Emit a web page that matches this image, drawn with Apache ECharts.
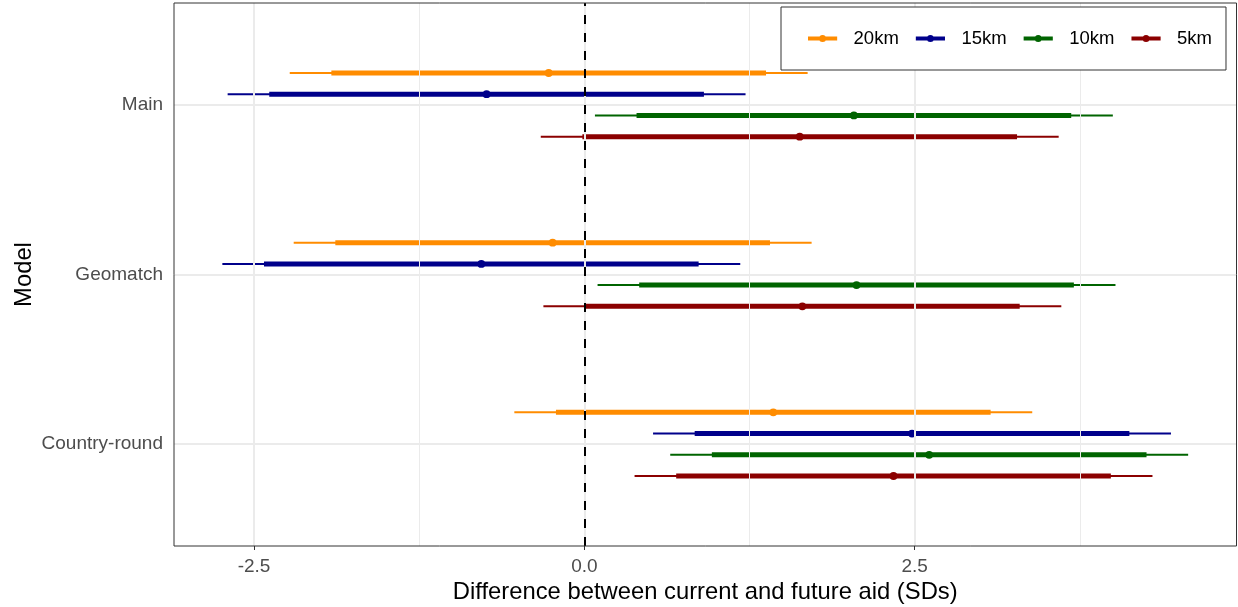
<!DOCTYPE html>
<html>
<head>
<meta charset="utf-8">
<title>Difference between current and future aid</title>
<script src="https://cdn.jsdelivr.net/npm/echarts@6/dist/echarts.min.js"></script>
<style>
  html, body { margin: 0; padding: 0; background: #ffffff; }
  #chart { width: 1238px; height: 607px; }
</style>
</head>
<body>
<div id="chart"></div>
<script>
// Models on the vertical axis, top to bottom
const models = ['Main', 'Geomatch', 'Country-round'];
// Buffer distances, one series each
const distances = ['20km', '15km', '10km', '5km'];
const colors = ['#FF8C00', '#00008B', '#006400', '#8B0000'];

// Rows follow `distances`, columns follow `models`
const estimates = [
  [-0.27, -0.24, 1.43],
  [-0.74, -0.78, 2.48],
  [2.04, 2.06, 2.61],
  [1.63, 1.65, 2.34]
];
const lower95 = [
  [-2.23, -2.20, -0.53],
  [-2.70, -2.74, 0.52],
  [0.08, 0.10, 0.65],
  [-0.33, -0.31, 0.38]
];
const upper95 = [
  [1.69, 1.72, 3.39],
  [1.22, 1.18, 4.44],
  [4.00, 4.02, 4.57],
  [3.59, 3.61, 4.30]
];
const lower90 = [
  [-1.915, -1.885, -0.215],
  [-2.385, -2.425, 0.835],
  [0.395, 0.415, 0.965],
  [-0.015, 0.005, 0.695]
];
const upper90 = [
  [1.375, 1.405, 3.075],
  [0.905, 0.865, 4.125],
  [3.685, 3.705, 4.255],
  [3.275, 3.295, 3.985]
];

const xTicks = [-2.5, 0, 2.5];
const xMinorTicks = [-1.25, 1.25, 3.75];

const FONT = '"Liberation Sans", Arial, Helvetica, sans-serif';
const X_MIN = -3.106, X_MAX = 4.936;
const Y_MIN = 0.4, Y_MAX = 3.6;
const DODGE = 0.5; // total dodge width shared by the four distances

// model index -> position on the value axis (first model at top)
const modelPos = i => models.length - i;
const yTicks = models.map((m, i) => modelPos(i));
const posToModel = {};
models.forEach((m, i) => { posToModel[modelPos(i)] = m; });

function dodgeOffset(k) {
  const step = DODGE / distances.length;
  return DODGE / 2 - step / 2 - k * step;
}

const intervalSeries = distances.map((d, k) => ({
  name: d,
  type: 'custom',
  z: 3,
  encode: { x: [0, 1, 2, 3, 4], y: 5 },
  data: models.map((m, i) => [
    lower95[k][i], upper95[k][i], lower90[k][i], upper90[k][i], estimates[k][i],
    modelPos(i) + dodgeOffset(k)
  ]),
  renderItem: function (params, api) {
    const y = api.value(5);
    const a95 = api.coord([api.value(0), y]);
    const b95 = api.coord([api.value(1), y]);
    const a90 = api.coord([api.value(2), y]);
    const b90 = api.coord([api.value(3), y]);
    const pt = api.coord([api.value(4), y]);
    const c = colors[k];
    return {
      type: 'group',
      children: [
        { type: 'line', shape: { x1: a95[0], y1: a95[1], x2: b95[0], y2: b95[1] },
          style: { stroke: c, lineWidth: 2 } },
        { type: 'line', shape: { x1: a90[0], y1: a90[1], x2: b90[0], y2: b90[1] },
          style: { stroke: c, lineWidth: 5 } },
        { type: 'circle', shape: { cx: pt[0], cy: pt[1], r: 3.9 },
          style: { fill: c } }
      ]
    };
  }
}));

const gridLine = (w) => ({ color: '#EBEBEB', width: w, type: 'solid' });

const backgroundGrid = {
  name: 'grid',
  type: 'line',
  data: [],
  z: 1,
  silent: true,
  markLine: {
    silent: true,
    symbol: 'none',
    animation: false,
    label: { show: false },
    emphasis: { disabled: true },
    data: [
      ...xMinorTicks.map(v => ({ xAxis: v, lineStyle: gridLine(1) })),
      ...xTicks.map(v => ({ xAxis: v, lineStyle: gridLine(2) })),
      ...yTicks.map(v => ({ yAxis: v, lineStyle: gridLine(2) }))
    ]
  }
};

const zeroLine = {
  name: 'zero',
  type: 'line',
  data: [],
  z: 5,
  silent: true,
  markLine: {
    silent: true,
    symbol: 'none',
    animation: false,
    label: { show: false },
    emphasis: { disabled: true },
    data: [{ xAxis: 0, lineStyle: { color: '#000000', width: 2, type: [9, 9] } }]
  }
};

const legendIcon = 'path://M0,2.5 L30,2.5 L30,6.5 L0,6.5 Z M18.6,4.5 A3.6,3.6 0 1,1 11.4,4.5 A3.6,3.6 0 1,1 18.6,4.5 Z';

const chart = echarts.init(document.getElementById('chart'), null, { renderer: 'canvas' });
chart.setOption({
  animation: false,
  backgroundColor: '#ffffff',
  textStyle: { fontFamily: FONT },
  grid: {
    left: 174, right: 1.5, top: 3, bottom: 61,
    outerBoundsMode: 'none',
    containLabel: false,
    show: true, borderColor: '#333333', borderWidth: 1, backgroundColor: 'transparent',
    z: 6
  },
  legend: {
    left: 781, top: 7,
    orient: 'horizontal',
    padding: [22, 14, 22, 27],
    itemGap: 17,
    itemWidth: 30,
    itemHeight: 7,
    backgroundColor: '#ffffff',
    borderColor: '#333333',
    borderWidth: 1,
    z: 10,
    selectedMode: false,
    textStyle: { fontFamily: FONT, fontSize: 18.5, color: '#000000', padding: [0, 0, 0, 11] },
    data: distances.map((d, k) => ({ name: d, icon: legendIcon, itemStyle: { color: colors[k] } }))
  },
  xAxis: {
    type: 'value',
    min: X_MIN, max: X_MAX,
    splitLine: { show: false },
    axisLine: { show: false },
    axisTick: { show: true, customValues: xTicks, length: 4, lineStyle: { color: '#333333', width: 1 } },
    axisLabel: {
      customValues: xTicks, margin: 11,
      formatter: v => Number(v).toFixed(1),
      color: '#4D4D4D', fontSize: 19, fontFamily: FONT
    },
    name: 'Difference between current and future aid (SDs)',
    nameLocation: 'middle',
    nameGap: 34,
    nameMoveOverlap: false,
    nameTextStyle: { color: '#000000', fontSize: 23.8, fontFamily: FONT }
  },
  yAxis: {
    type: 'value',
    min: Y_MIN, max: Y_MAX,
    splitLine: { show: false },
    axisLine: { show: false },
    axisTick: { show: true, customValues: yTicks, length: 4, lineStyle: { color: '#333333', width: 1 } },
    axisLabel: {
      customValues: yTicks, margin: 11,
      formatter: v => posToModel[Math.round(v)] || '',
      color: '#4D4D4D', fontSize: 19, fontFamily: FONT
    },
    name: 'Model',
    nameLocation: 'middle',
    nameRotate: 90,
    nameGap: 138,
    nameMoveOverlap: false,
    nameTextStyle: { color: '#000000', fontSize: 23.8, fontFamily: FONT }
  },
  series: [backgroundGrid, ...intervalSeries, zeroLine]
});
</script>
</body>
</html>
